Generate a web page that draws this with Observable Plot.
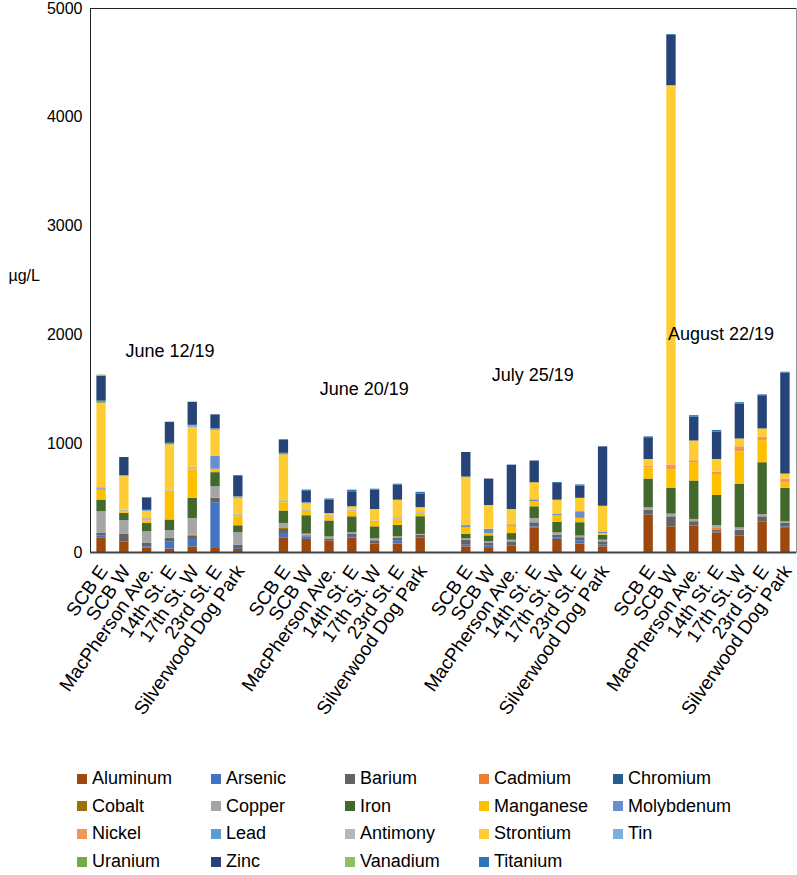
<!DOCTYPE html>
<html>
<head>
<meta charset="utf-8">
<script src="https://cdn.jsdelivr.net/npm/d3@7"></script>
<script src="https://cdn.jsdelivr.net/npm/@observablehq/plot@0.6"></script>
<style>
  html, body { margin: 0; padding: 0; background: #fff; }
  body { width: 797px; height: 875px; position: relative; font-family: "Liberation Sans", Arial, sans-serif; }
  #legend { position: absolute; left: 77px; top: 765px; display: grid; grid-template-columns: repeat(5, 134px); grid-auto-rows: 27.6px; font-size: 18px; color: #000; }
  #legend .item { display: flex; align-items: center; white-space: nowrap; }
  #legend .sw { width: 10px; height: 10px; margin-right: 5px; flex: none; }
</style>
</head>
<body>
<div id="chart"></div>
<div id="legend"></div>
<script>
// ---- data ----
const dates = ["June 12/19", "June 20/19", "July 25/19", "August 22/19"];
const sites = ["SCB E", "SCB W", "MacPherson Ave.", "14th St. E", "17th St. W", "23rd St. E", "Silverwood Dog Park"];
const metals = ["Aluminum", "Arsenic", "Barium", "Cadmium", "Chromium", "Cobalt", "Copper", "Iron", "Manganese", "Molybdenum",
                "Nickel", "Lead", "Antimony", "Strontium", "Tin", "Uranium", "Zinc", "Vanadium", "Titanium"];

// values in µg/L, 28 bars: 4 dates x 7 sites (date-major)
const aluminum   = [135, 98, 43, 31, 52, 37, 28,   135, 120, 107, 135, 77, 77, 135,   52, 37, 61, 227, 120, 77, 52,   344, 236, 243, 181, 153, 282, 221];
const arsenic    = [15, 0, 10, 68, 68, 421, 9,     40, 25, 0, 12, 0, 31, 0,           15, 21, 0, 9, 15, 31, 15,       0, 0, 0, 10, 0, 0, 15];
const barium     = [25, 68, 30, 31, 31, 40, 31,    37, 0, 18, 19, 31, 21, 25,         46, 25, 37, 37, 25, 28, 31,     46, 92, 40, 15, 52, 46, 31];
const cadmium    = [0, 0, 0, 0, 0, 0, 0,           0, 15, 0, 0, 0, 0, 0,              0, 0, 0, 0, 0, 0, 0,            0, 0, 0, 21, 0, 0, 0];
const chromium   = [0, 0, 0, 0, 0, 0, 0,           0, 0, 0, 0, 0, 0, 0,               0, 0, 0, 0, 0, 0, 0,            0, 0, 0, 0, 0, 0, 0];
const cobalt     = [0, 0, 0, 0, 9, 0, 0,           9, 0, 0, 0, 0, 0, 0,               0, 0, 0, 0, 0, 0, 0,            0, 0, 0, 0, 0, 0, 0];
const copper     = [200, 126, 107, 71, 153, 107, 114, 46, 9, 18, 15, 18, 15, 6,       12, 15, 15, 40, 21, 15, 15,     21, 25, 21, 21, 21, 21, 15];
const iron       = [107, 68, 77, 98, 184, 129, 64, 114, 169, 147, 147, 110, 107, 163, 43, 55, 61, 107, 98, 123, 46,  264, 236, 353, 276, 402, 476, 307];
const manganese  = [92, 15, 20, 261, 261, 31, 83,  77, 40, 37, 46, 40, 55, 31,        58, 21, 68, 46, 58, 40, 15,     104, 169, 169, 193, 298, 203, 52];
const molybdenum = [10, 0, 0, 0, 0, 117, 0,        0, 0, 0, 0, 0, 0, 0,               21, 40, 12, 18, 12, 61, 15,     0, 0, 0, 0, 0, 0, 0];
const nickel     = [0, 0, 5, 5, 10, 0, 0,          0, 0, 0, 0, 0, 0, 0,               0, 0, 0, 0, 0, 0, 0,            15, 46, 18, 21, 46, 31, 34];
const lead       = [10, 0, 0, 0, 0, 0, 0,          0, 0, 0, 0, 0, 0, 0,               0, 0, 0, 0, 0, 0, 0,            0, 0, 0, 0, 0, 0, 0];
const antimony   = [0, 15, 20, 10, 15, 0, 18,      18, 15, 15, 15, 15, 15, 15,        0, 0, 0, 0, 0, 0, 0,            0, 0, 0, 0, 0, 0, 0];
const strontium  = [777, 307, 61, 414, 365, 239, 150, 421, 52, 15, 31, 104, 160, 37,  439, 218, 141, 157, 132, 123, 236, 61, 3483, 181, 117, 71, 77, 46];
const tin        = [0, 10, 15, 0, 21, 15, 15,      0, 12, 0, 0, 0, 0, 0,              0, 0, 0, 0, 0, 0, 0,            0, 0, 0, 0, 0, 0, 0];
const uranium    = [20, 0, 0, 15, 0, 0, 0,         15, 0, 0, 0, 0, 0, 0,              9, 0, 0, 0, 0, 0, 0,            0, 5, 0, 0, 0, 0, 0];
const zinc       = [230, 166, 114, 193, 212, 129, 193, 123, 105, 123, 138, 178, 138, 126, 224, 243, 408, 200, 153, 114, 546, 193, 460, 218, 252, 322, 298, 927];
const vanadium   = [10, 0, 0, 0, 0, 0, 0,          0, 0, 0, 0, 0, 0, 0,               0, 0, 0, 0, 0, 0, 0,            0, 0, 0, 0, 0, 0, 0];
const titanium   = [0, 0, 0, 0, 0, 0, 0,           0, 12, 12, 15, 9, 9, 15,           0, 0, 0, 0, 9, 9, 0,            15, 8, 15, 15, 12, 15, 9];

// date annotations (label, site under which it sits, height in µg/L)
const annotations = [
  {date: "June 12/19",   site: "14th St. E", value: 1847},
  {date: "June 20/19",   site: "14th St. E", value: 1501},
  {date: "July 25/19",   site: "14th St. E", value: 1626},
  {date: "August 22/19", site: "14th St. E", value: 2010}
];
const yTicks = [0, 1000, 2000, 3000, 4000, 5000];

// ---- styles ----
const colors = ["#9E480E", "#4472C4", "#636363", "#ED7D31", "#255E91", "#997300", "#A5A5A5", "#43682B", "#FFC000", "#698ED0",
                "#F1975A", "#5B9BD5", "#B7B7B7", "#FFCD33", "#7CAFDD", "#70AD47", "#264478", "#8CC168", "#2E75B6"];
const annotationShift = {"June 12/19": 0, "June 20/19": 12, "July 25/19": -2, "August 22/19": 4};

// ---- build table ----
const series = [aluminum, arsenic, barium, cadmium, chromium, cobalt, copper, iron, manganese, molybdenum,
                nickel, lead, antimony, strontium, tin, uranium, zinc, vanadium, titanium];
const keyOf = (d, s) => d + "|" + s;
const domain = [];
dates.forEach((d, i) => {
  if (i > 0) domain.push("gap" + i);
  sites.forEach(s => domain.push(keyOf(d, s)));
});
const rows = [];
series.forEach((arr, m) => {
  dates.forEach((d, i) => sites.forEach((s, j) => {
    rows.push({key: keyOf(d, s), metal: metals[m], value: arr[i * sites.length + j]});
  }));
});
const notes = annotations.map(a => ({...a, key: keyOf(a.date, a.site)}));

const font = "'Liberation Sans', Arial, sans-serif";
const chart = Plot.plot({
  width: 797,
  height: 752,
  marginLeft: 90,
  marginRight: 1,
  marginTop: 8,
  marginBottom: 200,
  style: {fontFamily: font, fontSize: "16px", color: "#000", background: "#fff"},
  x: {domain, paddingInner: 0.59, paddingOuter: 0.28, round: false, label: null, axis: null},
  y: {domain: [0, 5000], label: null, axis: null},
  color: {domain: metals, range: colors},
  marks: [
    Plot.barY(rows, {x: "key", y: "value", fill: "metal", order: metals}),
    Plot.axisY({ticks: yTicks, tickSize: 0, tickPadding: 8, fontSize: 16, label: null, tickFormat: d3.format("d")}),
    Plot.axisX({
      tickSize: 0, tickPadding: 15, tickRotate: -55, fontSize: 19, dx: 2, label: null,
      tickFormat: k => k.startsWith("gap") ? "" : k.split("|")[1]
    }),
    Plot.text(notes, {x: "key", y: "value", text: "date", fontSize: 18, fill: "#000"}),
    Plot.text(["µg/L"], {frameAnchor: "left", dx: -82, dy: -5, textAnchor: "start", fontSize: 16, fill: "#000"}),
    Plot.frame({anchor: "top", stroke: "#222"}),
    Plot.frame({anchor: "left", stroke: "#222"}),
    Plot.frame({anchor: "right", stroke: "#999"}),
    Plot.ruleY([0], {stroke: "#444", strokeWidth: 2})
  ]
});
document.getElementById("chart").appendChild(chart);

// shift date annotations horizontally by their style offsets
d3.select(chart).selectAll("text").each(function() {
  const t = this.textContent;
  if (t in annotationShift) {
    const tr = this.getAttribute("transform") || "";
    this.setAttribute("transform", tr + ` translate(${annotationShift[t]},0)`);
  }
});

// legend
const legend = d3.select("#legend");
metals.forEach((m, i) => {
  const it = legend.append("div").attr("class", "item");
  it.append("span").attr("class", "sw").style("background", colors[i]);
  it.append("span").text(m);
});
</script>
</body>
</html>
